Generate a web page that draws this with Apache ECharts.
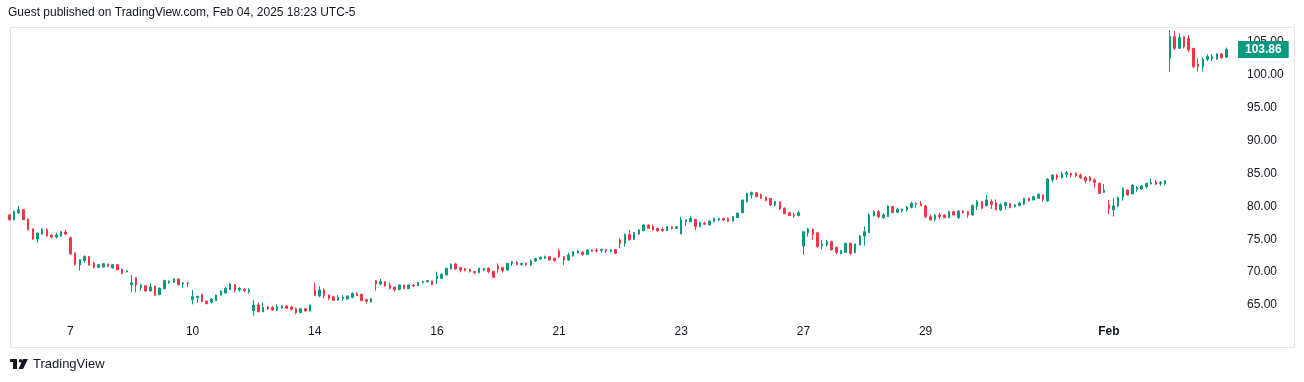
<!DOCTYPE html>
<html>
<head>
<meta charset="utf-8">
<script src="https://cdn.jsdelivr.net/npm/echarts@6/dist/echarts.min.js"></script>
<style>
html,body{margin:0;padding:0;background:#ffffff;}
#chart{width:1304px;height:382px;}
</style>
</head>
<body>
<div id="chart"></div>
<script>
// ---- Data: 30-minute candles, [open, close, low, high] ----
const jan06 = [[78.70,77.95,77.85,78.80],[77.93,79.19,77.90,79.40],[79.00,79.50,78.84,80.06],[79.50,77.98,77.90,79.60],[78.08,76.46,76.30,78.15],[76.56,75.04,74.89,76.66],[75.04,75.95,74.48,76.00],[75.80,76.46,75.65,76.66],[76.46,75.50,75.40,76.66],[75.65,75.34,75.09,75.70],[75.34,75.65,75.10,76.00],[75.50,76.15,75.40,76.25],[76.10,75.80,75.65,76.46]];
const jan07 = [[75.24,72.76,72.60,75.40],[72.90,71.13,71.00,72.95],[71.08,71.90,70.22,71.95],[71.74,72.35,71.40,72.55],[72.35,71.08,70.98,72.45],[71.34,70.73,70.58,71.60],[70.73,71.13,70.65,71.20],[70.78,71.29,70.68,71.39],[71.24,70.88,70.80,71.30],[70.63,71.13,70.55,71.20],[71.13,70.37,70.30,71.18],[70.45,69.80,69.70,70.50],[70.02,70.17,69.98,70.30]];
const jan08 = [[68.09,68.39,66.92,69.56],[69.15,68.04,66.92,69.20],[67.63,68.04,67.13,68.19],[67.94,67.13,67.00,68.00],[67.13,67.73,67.08,68.30],[67.83,66.47,66.37,67.94],[66.57,67.58,66.50,67.63],[67.48,68.70,67.45,68.85],[68.44,68.65,68.19,68.70],[68.50,68.95,68.34,69.10],[68.95,68.09,67.94,69.00],[68.19,68.34,67.63,68.50],[68.39,68.29,67.73,68.55]];
const jan10 = [[65.81,66.26,65.10,67.28],[66.11,66.32,65.35,66.37],[66.62,65.50,65.45,66.72],[65.60,65.20,65.10,65.65],[65.45,65.90,65.25,66.06],[65.65,66.52,65.60,66.57],[66.52,67.13,66.45,67.18],[66.82,67.53,66.77,67.73],[67.33,68.19,67.28,68.29],[68.14,67.28,66.92,68.19],[67.28,67.53,67.03,67.73],[67.43,67.18,66.92,67.53],[67.03,67.38,66.77,67.53]];
const jan13 = [[64.14,65.00,63.37,65.76],[65.00,63.98,63.90,65.40],[63.98,64.64,63.90,65.40],[64.70,64.39,64.24,64.85],[64.64,64.24,64.14,64.85],[64.24,64.75,64.08,65.10],[64.54,64.85,64.44,64.95],[64.85,64.49,64.39,65.00],[64.70,64.34,64.14,64.85],[64.44,63.83,63.58,64.60],[63.83,64.44,63.78,64.49],[64.44,64.08,63.98,64.49],[64.08,65.00,64.03,65.05]];
const jan14 = [[67.28,66.42,66.37,68.39],[66.37,67.28,66.16,67.89],[67.28,66.42,66.00,67.53],[66.52,66.00,65.76,66.57],[66.26,65.71,65.65,66.31],[65.74,66.20,65.65,66.45],[65.98,66.18,65.65,66.52],[65.90,66.37,65.85,66.47],[66.16,66.77,66.00,66.92],[66.77,66.42,66.40,66.97],[66.62,65.65,65.60,66.72],[65.81,65.55,65.20,66.00],[65.45,65.96,65.35,66.11]];
const jan15 = [[68.70,68.19,67.18,68.80],[68.19,68.55,67.99,68.95],[68.55,67.89,67.78,68.60],[68.04,67.53,67.33,68.44],[67.73,67.33,67.03,67.78],[67.33,68.04,67.30,68.14],[68.04,67.48,67.43,68.09],[67.48,68.04,67.45,68.14],[68.04,67.89,67.73,68.19],[67.94,68.44,67.90,68.49],[68.44,68.60,68.24,68.62],[68.55,68.70,68.39,68.80],[68.65,68.09,68.04,68.70]];
const jan16 = [[68.95,69.41,68.19,70.07],[69.05,69.66,68.95,69.81],[69.56,70.57,69.46,70.67],[70.50,71.20,70.40,71.33],[71.24,70.48,70.33,71.39],[70.68,70.33,69.97,70.83],[70.53,70.23,70.12,70.63],[70.43,70.12,69.92,70.48],[70.07,69.92,69.67,70.17],[69.92,70.58,69.82,70.63],[70.33,70.58,70.17,70.63],[70.58,70.07,69.82,70.73],[70.12,69.21,69.16,70.17]];
const jan17 = [[70.94,70.48,69.87,71.34],[70.68,70.23,69.97,70.83],[70.33,71.34,70.23,71.39],[71.34,71.59,70.94,71.70],[71.49,71.13,71.08,71.65],[71.13,71.34,70.98,71.39],[71.34,71.13,70.89,71.44],[71.09,71.75,70.94,71.95],[71.70,72.05,71.55,72.10],[71.99,72.25,71.90,72.35],[72.10,72.35,72.00,72.50],[72.35,71.85,71.75,72.40],[72.10,71.75,71.60,72.25]];
const jan21 = [[73.20,72.35,72.10,73.55],[72.35,71.84,71.08,72.40],[71.84,72.60,71.70,72.96],[72.45,73.11,72.40,73.20],[72.90,73.20,72.80,73.37],[73.06,72.66,72.50,73.10],[72.66,73.37,72.60,73.42],[73.37,73.16,73.06,73.47],[73.37,73.22,73.01,73.62],[73.27,73.47,72.96,73.50],[73.47,73.22,72.86,73.50],[73.16,73.42,73.10,73.45],[73.42,72.86,72.76,73.47]];
const jan22 = [[74.89,74.28,73.62,75.14],[74.38,75.70,73.87,75.90],[75.70,74.89,74.85,76.41],[74.99,76.00,74.89,76.10],[75.80,76.41,75.65,76.51],[76.31,77.17,76.21,77.27],[77.17,76.66,76.56,77.27],[76.92,76.41,76.31,77.22],[76.66,76.26,76.16,76.70],[76.51,76.31,76.10,76.81],[76.31,76.92,76.26,76.97],[76.88,76.63,76.45,77.00],[76.66,76.91,76.56,77.00]];
const jan23 = [[75.80,77.93,75.75,78.43],[77.68,77.93,77.02,77.98],[77.68,78.18,77.58,78.58],[78.03,76.91,76.40,78.08],[76.91,77.52,76.81,77.68],[77.42,77.27,77.17,77.68],[77.17,77.78,77.12,77.83],[77.68,78.13,77.58,78.28],[77.93,78.13,77.78,78.28],[78.13,77.93,77.78,78.28],[78.13,77.72,77.62,78.28],[77.78,78.43,77.68,78.53],[78.28,78.99,78.25,79.02]];
const jan24 = [[79.04,80.97,78.94,81.02],[80.72,81.98,80.57,82.08],[81.73,82.08,81.22,82.24],[82.08,81.48,81.38,82.18],[81.73,81.22,81.12,81.98],[81.37,80.87,80.77,81.47],[81.22,80.21,80.06,81.25],[80.21,80.72,79.96,80.82],[80.65,79.58,79.45,80.75],[79.70,78.89,78.85,79.85],[79.04,78.59,78.55,79.19],[78.69,78.54,78.33,79.09],[78.59,79.04,78.49,79.35]];
const jan27 = [[73.97,76.15,72.60,76.25],[76.00,76.56,75.40,76.76],[76.56,75.75,74.89,76.60],[76.00,73.87,73.72,76.05],[74.02,74.28,73.47,74.89],[74.12,74.63,73.87,74.89],[74.63,73.37,73.30,74.79],[73.77,73.01,72.70,73.87],[72.81,73.27,72.70,73.37],[73.01,74.38,72.95,74.48],[74.38,72.86,72.60,74.48],[72.96,74.28,72.90,74.33],[74.12,75.49,74.05,75.65]];
const jan28 = [[75.49,76.15,74.02,76.92],[76.00,78.69,75.95,78.94],[78.59,79.19,78.43,79.45],[79.19,78.43,78.18,79.45],[78.28,78.69,78.08,78.94],[78.43,80.05,78.38,80.11],[79.96,79.04,78.99,80.06],[79.09,79.55,79.04,79.80],[79.35,79.60,79.09,79.65],[79.45,79.90,79.20,80.06],[79.85,80.46,79.70,80.72],[80.31,80.46,79.80,80.62],[80.41,80.11,80.06,80.82]];
const jan29 = [[80.06,78.43,78.18,80.21],[78.43,77.93,77.83,78.79],[78.03,78.69,77.68,78.79],[78.69,78.43,78.03,79.04],[78.69,78.28,78.18,78.79],[78.28,79.19,78.23,79.35],[79.19,78.69,78.64,79.30],[78.28,79.30,78.08,79.35],[79.30,79.04,78.89,79.35],[79.19,78.69,78.28,79.30],[78.69,80.11,78.59,80.31],[79.96,80.72,79.45,80.97],[80.72,79.70,79.60,80.82]];
const jan30 = [[80.11,80.97,79.96,81.73],[80.72,80.31,79.60,81.07],[80.56,79.45,79.40,81.07],[79.45,80.26,79.30,80.46],[80.11,80.56,79.45,80.72],[80.46,79.85,79.70,80.51],[79.96,80.21,79.85,80.31],[80.11,80.51,80.00,80.72],[80.36,81.22,80.21,81.32],[81.22,80.87,80.72,81.32],[80.97,81.48,80.95,81.63],[81.22,81.83,81.12,81.98],[81.73,81.07,80.72,81.83]];
const jan31 = [[80.82,84.16,80.72,84.26],[84.01,84.77,83.65,84.87],[84.77,84.36,84.01,84.87],[84.36,84.92,84.26,85.28],[84.87,85.12,84.36,85.38],[85.02,84.77,84.36,85.12],[85.02,84.67,84.47,85.17],[84.77,84.36,84.16,85.02],[84.41,83.90,83.50,84.61],[84.41,83.90,83.75,84.61],[84.01,83.65,82.74,84.26],[83.50,81.98,81.90,83.65],[82.13,82.49,82.05,83.40]];
const feb03 = [[80.26,79.58,78.80,80.97],[79.45,80.06,78.43,81.22],[80.06,81.37,79.85,81.47],[81.37,82.69,80.87,82.89],[82.49,81.73,81.68,82.59],[81.88,83.25,81.88,83.35],[82.59,82.84,82.24,83.10],[82.64,83.10,82.49,83.20],[83.00,83.50,82.74,83.60],[83.40,83.60,83.35,84.26],[83.70,83.40,83.25,84.00],[83.50,83.65,83.10,83.85],[83.40,83.90,83.25,84.01]];
const feb04 = [[102.52,105.80,100.49,106.83],[105.80,104.04,103.79,106.68],[104.04,105.66,103.94,106.32],[105.80,104.29,104.04,105.85],[105.56,103.79,103.43,106.07],[104.04,101.25,100.99,104.09],[101.61,101.25,100.49,102.52],[101.25,102.42,100.49,102.62],[102.37,102.77,102.11,103.13],[102.42,102.77,102.06,103.13],[102.42,103.18,102.27,103.28],[103.18,102.62,102.42,103.33],[102.67,103.86,102.62,104.14]];

const dayNames = ['6','7','8','10','13','14','15','16','17','21','22','23','24','27','28','29','30','31','Feb','4'];
const dayCandles = [jan06,jan07,jan08,jan10,jan13,jan14,jan15,jan16,jan17,jan21,jan22,jan23,jan24,jan27,jan28,jan29,jan30,jan31,feb03,feb04];
const tickDays = ['7','10','14','16','21','23','27','29','Feb'];
const priceTicks = [65,70,75,80,85,90,95,100,105];
const emptyRightSlots = 2;

// ---- build category axis + data ----
const categories = [];
const ohlc = [];
dayCandles.forEach((arr, d) => {
  arr.forEach((c, k) => { categories.push(dayNames[d] + '#' + k); ohlc.push(c); });
});
for (let i = 0; i < emptyRightSlots; i++) categories.push('pad#' + i);
const lastClose = ohlc[ohlc.length - 1][1];

const UP = '#089981', DOWN = '#F23645', TXT = '#131722';
const FONT = 'Liberation Sans, Arial, sans-serif';

const chart = echarts.init(document.getElementById('chart'), null, {renderer: 'canvas'});
chart.setOption({
  animation: false,
  backgroundColor: '#ffffff',
  textStyle: {fontFamily: FONT},
  grid: {left: 7, right: 66, top: 27, bottom: 64, containLabel: false},
  xAxis: {
    type: 'category',
    data: categories,
    boundaryGap: true,
    axisLine: {show: false},
    axisTick: {show: false},
    splitLine: {show: false},
    axisLabel: {
      color: TXT, fontSize: 12, fontFamily: FONT, margin: 8,
      interval: (i, v) => { const p = String(v).split('#'); return p[1] === '0' && tickDays.includes(p[0]); },
      formatter: v => { const d = String(v).split('#')[0]; return d === 'Feb' ? '{b|Feb}' : d; },
      rich: {b: {fontWeight: 'bold', fontSize: 12, color: TXT, fontFamily: FONT}}
    }
  },
  yAxis: {
    type: 'value',
    position: 'right',
    min: 63.02, max: 107.28,
    axisLine: {show: false},
    axisTick: {show: false},
    splitLine: {show: false},
    axisLabel: {
      color: TXT, fontSize: 12, fontFamily: FONT, margin: 9, align: 'left',
      padding: [7, 0, 0, 0],
      customValues: priceTicks,
      formatter: v => Number(v).toFixed(2)
    }
  },
  series: [{
    type: 'candlestick',
    data: ohlc,
    barWidth: 2,
    z: 5,
    itemStyle: {color: UP, color0: DOWN, borderColor: UP, borderColor0: DOWN, borderWidth: 1},
    markLine: {
      silent: true, symbol: ['none','none'], z: 10,
      lineStyle: {color: 'rgba(0,0,0,0)', width: 1, type: 'solid'},
      label: {
        show: true,
        position: 'end', distance: 0, formatter: () => lastClose.toFixed(2),
        backgroundColor: UP, color: '#ffffff', fontSize: 12, fontWeight: 'bold', fontFamily: FONT,
        padding: [3, 7, 2, 7]
      },
      emphasis: {disabled: true},
      data: [{yAxis: lastClose}]
    }
  }],
  graphic: [
    {type: 'rect', z: -1, silent: true, shape: {x: 10.5, y: 27.5, width: 1284, height: 320}, style: {fill: 'none', stroke: '#e0e3eb', lineWidth: 1}},
    {type: 'text', left: 8, top: 7, style: {text: 'Guest published on TradingView.com, Feb 04, 2025 18:23 UTC-5', fill: TXT, fontSize: 12, fontFamily: FONT}},
    {type: 'group', left: 10, top: 359, children: [
      {type: 'rect', shape: {x: 0, y: 0, width: 7, height: 3}, style: {fill: TXT}},
      {type: 'rect', shape: {x: 3, y: 0, width: 4, height: 10}, style: {fill: TXT}},
      {type: 'circle', shape: {cx: 10.5, cy: 1.8, r: 1.8}, style: {fill: TXT}},
      {type: 'polygon', shape: {points: [[13, 0], [18, 0], [13, 10], [8.5, 10]]}, style: {fill: TXT}}
    ]},
    {type: 'text', left: 33, top: 358, style: {text: 'TradingView', fill: TXT, fontSize: 13, fontWeight: 500, fontFamily: FONT}}
  ]
});
</script>
</body>
</html>
